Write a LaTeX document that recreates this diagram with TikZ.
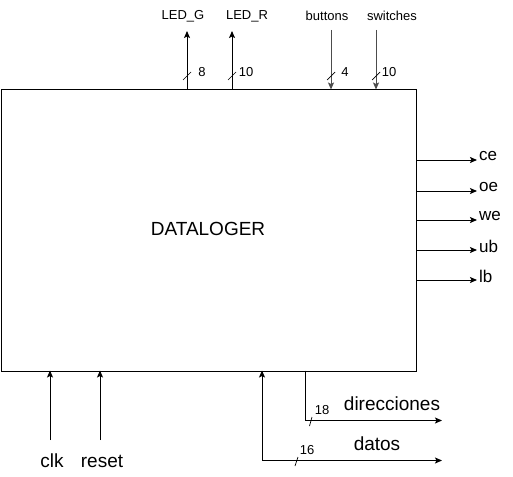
\documentclass[tikz,border=0pt]{standalone}
\usepackage{fontspec}
\setmainfont{Liberation Sans}
\usetikzlibrary{arrows.meta}
\begin{document}
\begin{tikzpicture}[x=1pt,y=-1pt,
  sig/.style={line width=1pt,-{Stealth[length=7pt,width=6pt,inset=1.5pt]}},
  sigin/.style={sig,draw=black!70},
  tick/.style={line width=0.7pt},
  small/.style={font=\fontsize{13}{15}\selectfont,inner sep=0pt},
  mid/.style={font=\fontsize{17}{19}\selectfont,inner sep=0pt},
  big/.style={font=\fontsize{19}{21}\selectfont,inner sep=0pt}]
\useasboundingbox[fill=white] (0,0) rectangle (513,476);
\node[draw,line width=1pt,minimum width=415pt,minimum height=281pt,anchor=north west,inner sep=0pt] (box) at (1,89.5) {};
\node[big] (title) at (208,229) {DATALOGER};
% top outputs
\coordinate (gb) at (187,89.5); \coordinate (gt) at (187,31);
\coordinate (rb) at (232,89.5); \coordinate (rt) at (232,31);
\draw[sig] (gb) -- (gt);
\draw[sig] (rb) -- (rt);
\node[small] (ledg) at (183,16) {LED\_G};
\node[small] (ledr) at (247,16) {LED\_R};
\draw[tick] (183,80) -- (191,72);
\draw[tick] (228,80) -- (236,72);
\node[small] (n8) at (202,72) {8};
\node[small] (n10a) at (246,72) {10};
% top inputs
\coordinate (bt) at (331,30); \coordinate (bb) at (331,89.5);
\coordinate (st) at (376,30); \coordinate (sb) at (376,89.5);
\draw[sigin] (bt) -- (bb);
\draw[sigin] (st) -- (sb);
\node[small] (buttons) at (327,16) {buttons};
\node[small] (switches) at (392,16) {switches};
\draw[tick] (327,80) -- (335,72);
\draw[tick] (372,80) -- (380,72);
\node[small] (n4) at (345,72) {4};
\node[small] (n10b) at (389,72) {10};
% right outputs
\foreach \y/\t/\n in {160/ce/ce,191/oe/oe,220/we/we,250/ub/ub,280/lb/lb}{
  \coordinate (a\n) at (416,\y);
  \coordinate (b\n) at (477,\y);
  \draw[sig] (a\n) -- (b\n);
  \node[mid,anchor=west] (l\n) at (479,\y-4) {\t};
}
% bottom inputs
\coordinate (clkb) at (50,440); \coordinate (clkt) at (50,370.5);
\coordinate (rstb) at (100,440); \coordinate (rstt) at (100,370.5);
\draw[sig] (clkb) -- (clkt);
\draw[sig] (rstb) -- (rstt);
\node[big] (clk) at (52,461) {clk};
\node[big] (reset) at (102,461) {reset};
% direcciones
\coordinate (d0) at (305,370.5); \coordinate (d1) at (305,420.5); \coordinate (d2) at (442,420.5);
\draw[sig] (d0) -- (d1) -- (d2);
\draw[tick] (309.5,426) -- (312,417);
\node[small] (n18) at (322,410) {18};
\node[big] (dir) at (392,404) {direcciones};
% datos
\coordinate (t0) at (442,460.5); \coordinate (t1) at (262,460.5); \coordinate (t2) at (262,370.5);
\draw[sig] (t1) -- (t0);
\draw[sig] (t1) -- (t2);
\draw[tick] (295,466) -- (298,457);
\node[small] (n16) at (307,450) {16};
\node[big] (datos) at (377,444) {datos};
\end{tikzpicture}
\end{document}
